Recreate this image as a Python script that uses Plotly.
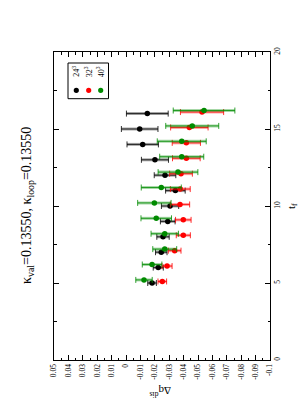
import plotly.graph_objects as go

# ---- data ----
t_f = [5, 6, 7, 8, 9, 10, 11, 12, 13, 14, 15, 16]
t_shift_32 = 0.1
t_shift_40 = 0.2
dq_24 = [-0.0181, -0.0224, -0.0245, -0.0257, -0.0290, -0.0306, -0.0343, -0.0271, -0.0201, -0.0116, -0.0095, -0.0148]
err_24 = [0.0030, 0.0035, 0.0040, 0.0043, 0.0051, 0.0060, 0.0068, 0.0075, 0.0094, 0.0109, 0.0127, 0.0145]
dq_32 = [-0.0252, -0.0285, -0.0338, -0.0398, -0.0398, -0.0375, -0.0377, -0.0382, -0.0419, -0.0419, -0.0440, -0.0528]
err_32 = [0.0030, 0.0035, 0.0044, 0.0049, 0.0054, 0.0067, 0.0069, 0.0079, 0.0096, 0.0098, 0.0130, 0.0150]
dq_40 = [-0.0125, -0.0181, -0.0269, -0.0269, -0.0210, -0.0197, -0.0245, -0.0361, -0.0387, -0.0387, -0.0460, -0.0542]
err_40 = [0.0057, 0.0068, 0.0083, 0.0095, 0.0106, 0.0116, 0.0139, 0.0138, 0.0153, 0.0170, 0.0184, 0.0214]

series_names = ["24<sup>3</sup>", "32<sup>3</sup>", "40<sup>3</sup>"]
dq_ticks = [0.05, 0.04, 0.03, 0.02, 0.01, 0, -0.01, -0.02, -0.03, -0.04, -0.05, -0.06, -0.07, -0.08, -0.09, -0.1]
dq_ticklabels = ["0.05", "0.04", "0.03", "0.02", "0.01", "0", "-0.01", "-0.02", "-0.03", "-0.04",
                 "-0.05", "-0.06", "-0.07", "-0.08", "-0.09", "-0.1"]
dq_minor = [0.045, 0.035, 0.025, 0.015, 0.005, -0.005, -0.015, -0.025, -0.035, -0.045,
            -0.055, -0.065, -0.075, -0.085, -0.095]
tf_ticks = [0, 5, 10, 15, 20]
tf_minor = [2.5, 7.5, 12.5, 17.5]

W, H = 308, 399
L, R, T, B = 46, 262, 44, 352
SERIF = "Liberation Serif"

def px(x):
    return (x - L) / (R - L)

def py(y):
    return (B - y) / (B - T)

colors = ["#000000", "#ff0000", "#008b00"]
light = ["rgba(0,0,0,0.35)", "rgba(255,0,0,0.35)", "rgba(0,139,0,0.35)"]
dark = ["rgba(0,0,0,0.8)", "rgba(255,0,0,0.8)", "rgba(0,139,0,0.8)"]

fig = go.Figure()
data = [
    (dq_24, [t for t in t_f], err_24),
    (dq_32, [t + t_shift_32 for t in t_f], err_32),
    (dq_40, [t + t_shift_40 for t in t_f], err_40),
]
for i, (q, tt, e) in enumerate(data):
    fig.add_trace(go.Scatter(
        x=q, y=tt, mode="markers",
        marker=dict(color="rgba(0,0,0,0)", size=1),
        error_x=dict(type="data", array=e, visible=True, color=light[i], thickness=3, width=0),
        showlegend=False, hoverinfo="skip"))
    fig.add_trace(go.Scatter(
        x=q, y=tt, mode="markers", name=series_names[i],
        marker=dict(color=colors[i], size=5.5, line=dict(width=0)),
        error_x=dict(type="data", array=e, visible=True, color=dark[i], thickness=1, width=3),
        showlegend=False))

fig.update_layout(
    width=W, height=H,
    margin=dict(l=L, r=W - R, t=T, b=H - B, pad=0),
    paper_bgcolor="white", plot_bgcolor="white",
    font=dict(family=SERIF, size=7.5, color="black"),
    xaxis=dict(range=[0.05, -0.1], autorange=False, tickvals=dq_ticks, ticktext=dq_ticklabels,
               ticks="inside", ticklen=5, tickwidth=1, tickcolor="black", tickangle=-90,
               showline=True, linecolor="black", linewidth=1, mirror="ticks",
               showgrid=False, zeroline=False,
               minor=dict(tickvals=dq_minor, ticks="inside", ticklen=2.5, tickcolor="black", showgrid=False),
               tickfont=dict(family=SERIF, size=7.5)),
    yaxis=dict(range=[0, 20], autorange=False, side="right", tickvals=tf_ticks,
               ticktext=[str(v) for v in tf_ticks],
               ticks="inside", ticklen=5, tickwidth=1, tickcolor="black", tickangle=-90,
               showline=True, linecolor="black", linewidth=1, mirror="ticks",
               showgrid=False, zeroline=False,
               minor=dict(tickvals=tf_minor, ticks="inside", ticklen=2.5, tickcolor="black", showgrid=False),
               tickfont=dict(family=SERIF, size=7.5)),
)

# title (rotated)
fig.add_annotation(text="κ<sub>val</sub>=0.13550, κ<sub>loop</sub>=0.13550",
                   xref="paper", yref="paper", x=px(19), y=0.5, showarrow=False,
                   textangle=-90, font=dict(family=SERIF, size=14), xanchor="center", yanchor="middle")
# axis titles
fig.add_annotation(text="Δq<sup>dis</sup>", xref="paper", yref="paper", x=px(152), y=py(384),
                   showarrow=False, textangle=180, font=dict(family=SERIF, size=11),
                   xanchor="center", yanchor="middle")
fig.add_annotation(text="t<sub>f</sub>", xref="paper", yref="paper", x=px(284), y=0.5,
                   showarrow=False, textangle=-90, font=dict(family=SERIF, size=11),
                   xanchor="center", yanchor="middle")

# legend box
fig.add_shape(type="rect", xref="paper", yref="paper", x0=px(60), x1=px(100.5), y0=py(55), y1=py(90.7),
              line=dict(color="black", width=1), fillcolor="white", layer="above")
legend_x = [68.3, 80.7, 92.7]
for i in range(3):
    r = 2.6
    fig.add_shape(type="circle", xref="paper", yref="paper",
                  x0=px(legend_x[i] - r), x1=px(legend_x[i] + r),
                  y0=py(82.3 + r), y1=py(82.3 - r),
                  line=dict(color=colors[i], width=0), fillcolor=colors[i], layer="above")
    fig.add_annotation(text=series_names[i], xref="paper", yref="paper", x=px(legend_x[i] - 1), y=py(63.5),
                       showarrow=False, textangle=-90, font=dict(family=SERIF, size=8),
                       xanchor="center", yanchor="middle")

fig.write_html("out.html")
